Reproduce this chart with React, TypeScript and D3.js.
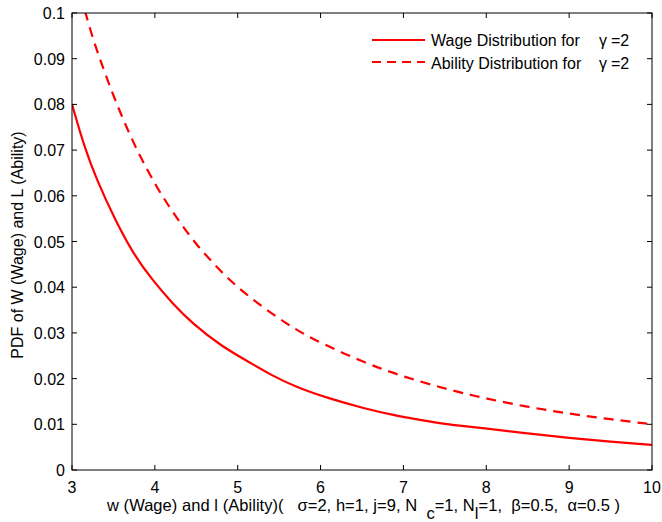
import React from "react";
import * as d3 from "d3";

const wageX = [3, 3.16, 3.3, 3.52, 3.76, 3.97, 4.21, 4.45, 4.81, 5.13, 5.41, 5.71, 6.11, 6.52, 6.92, 7.32, 7.56, 8, 8.5, 9, 9.5, 10];
const wageY = [0.08, 0.07, 0.0635, 0.0547, 0.0467, 0.0416, 0.0365, 0.0321, 0.027, 0.0237, 0.0207, 0.0181, 0.0156, 0.0135, 0.0118, 0.0106, 0.0099, 0.0091, 0.008, 0.007, 0.0062, 0.0055];

const abilityX = [3.1, 3.16, 3.24, 3.4, 3.6, 3.8, 4.03, 4.21, 4.45, 4.69, 4.93, 5.25, 5.59, 5.87, 6.52, 7, 7.56, 8, 8.5, 9, 9.5, 10];
const abilityY = [0.104, 0.1003, 0.095, 0.0866, 0.0773, 0.0693, 0.0616, 0.0566, 0.0504, 0.0455, 0.041, 0.0363, 0.032, 0.0289, 0.0235, 0.0204, 0.0175, 0.0156, 0.0138, 0.0123, 0.0111, 0.01];

const xTicks = [3, 4, 5, 6, 7, 8, 9, 10];
const yTicks = [0, 0.01, 0.02, 0.03, 0.04, 0.05, 0.06, 0.07, 0.08, 0.09, 0.1];
const yTickLabels = ["0", "0.01", "0.02", "0.03", "0.04", "0.05", "0.06", "0.07", "0.08", "0.09", "0.1"];

const legendLabels = ["Wage Distribution for", "Ability Distribution for"];

const L = 72, R = 652, T = 13, B = 470;
const FONT = "'Liberation Sans', Arial, Helvetica, sans-serif";
const FS = 16;

export default function App() {
  const x = d3.scaleLinear().domain([3, 10]).range([L, R]);
  const y = d3.scaleLinear().domain([0, 0.1]).range([B, T]);
  const line = d3
    .line<[number, number]>()
    .x((d) => x(d[0]))
    .y((d) => y(d[1]))
    .curve(d3.curveBasis);
  const wage = wageX.map((v, i) => [v, wageY[i]] as [number, number]);
  const ability = abilityX.map((v, i) => [v, abilityY[i]] as [number, number]);
  const red = "#ff0000";
  const tl = 5;

  return (
    <svg
      width={662}
      height={522}
      style={{ position: "absolute", left: 0, top: 0, background: "#fff" }}
      fontFamily={FONT}
    >
      <rect x={0} y={0} width={662} height={522} fill="#fff" />
      <defs>
        <clipPath id="plotclip">
          <rect x={L} y={T} width={R - L} height={B - T} />
        </clipPath>
      </defs>
      <g clipPath="url(#plotclip)">
        <path d={line(wage) || ""} fill="none" stroke={red} strokeWidth={2.2} />
        <path d={line(ability) || ""} fill="none" stroke={red} strokeWidth={2.2} strokeDasharray="10,7" />
      </g>
      <rect x={L} y={T} width={R - L} height={B - T} fill="none" stroke="#000" strokeWidth={1} />
      {xTicks.map((t) => (
        <g key={"x" + t}>
          <line x1={x(t)} x2={x(t)} y1={B} y2={B - tl} stroke="#000" />
          <line x1={x(t)} x2={x(t)} y1={T} y2={T + tl} stroke="#000" />
          <text x={x(t)} y={493} textAnchor="middle" fontSize={FS} fill="#000">
            {t}
          </text>
        </g>
      ))}
      {yTicks.map((t, i) => (
        <g key={"y" + t}>
          <line x1={L} x2={L + tl} y1={y(t)} y2={y(t)} stroke="#000" />
          <line x1={R} x2={R - tl} y1={y(t)} y2={y(t)} stroke="#000" />
          <text x={65} y={y(t) + 6} textAnchor="end" fontSize={FS} fill="#000">
            {yTickLabels[i]}
          </text>
        </g>
      ))}
      <line x1={372} x2={425} y1={40} y2={40} stroke={red} strokeWidth={2.2} />
      <line x1={372} x2={425} y1={62} y2={62} stroke={red} strokeWidth={2.2} strokeDasharray="9,6" />
      {legendLabels.map((lab, i) => (
        <g key={lab}>
          <text x={431} y={46 + i * 23} fontSize={FS} fill="#000">
            {lab}
          </text>
          <text x={599} y={46 + i * 23} fontSize={FS} fill="#000">
            γ
          </text>
          <text x={611} y={46 + i * 23} fontSize={FS} fill="#000">
            =2
          </text>
        </g>
      ))}
      <text
        x={107}
        y={511}
        fontSize={16.5}
        fill="#000"
        style={{ whiteSpace: "pre" }}
        textLength={513}
        lengthAdjust="spacing"
      >
        {"w (Wage) and l (Ability)(   σ=2, h=1, j=9, N  "}
        <tspan dy={8}>c</tspan>
        <tspan dy={-8}>{"=1, N"}</tspan>
        <tspan dy={8}>l</tspan>
        <tspan dy={-8}>{"=1,  β=0.5,  α=0.5 )"}</tspan>
      </text>
      <text
        transform={`translate(23, 245) rotate(-90)`}
        textAnchor="middle"
        fontSize={FS}
        fill="#000"
      >
        PDF of W (Wage) and L (Ability)
      </text>
    </svg>
  );
}
